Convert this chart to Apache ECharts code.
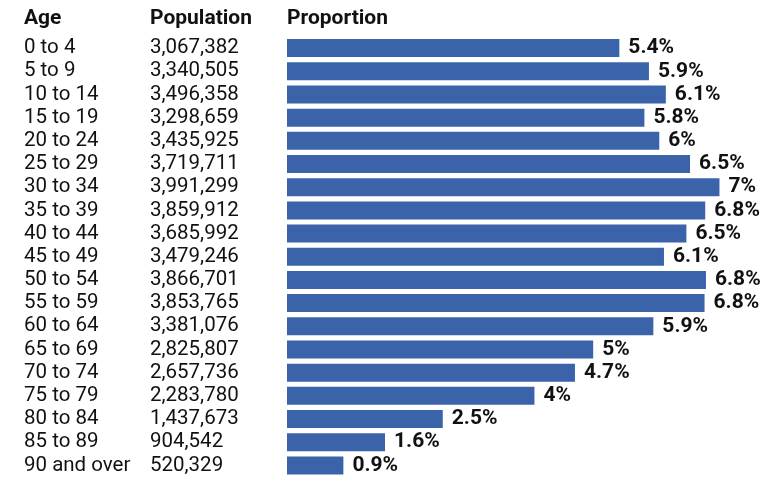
<!DOCTYPE html>
<html>
<head>
<meta charset="utf-8">
<script src="https://cdn.jsdelivr.net/npm/echarts@6/dist/echarts.min.js"></script>
<style>html,body{margin:0;padding:0;background:#fff;}#c{width:769px;height:477px;}</style>
</head>
<body>
<div id="c"></div>
<script>
const ages = ["0 to 4","5 to 9","10 to 14","15 to 19","20 to 24","25 to 29","30 to 34","35 to 39","40 to 44","45 to 49","50 to 54","55 to 59","60 to 64","65 to 69","70 to 74","75 to 79","80 to 84","85 to 89","90 and over"];
const population = [3067382,3340505,3496358,3298659,3435925,3719711,3991299,3859912,3685992,3479246,3866701,3853765,3381076,2825807,2657736,2283780,1437673,904542,520329];
const proportion = [5.4,5.9,6.1,5.8,6,6.5,7,6.8,6.5,6.1,6.8,6.8,5.9,5,4.7,4,2.5,1.6,0.9];
const headers = ["Age","Population","Proportion"];

const chart = echarts.init(document.getElementById('c'), null, {renderer:'canvas'});
const font = 'Roboto';
const labelCommon = {fontFamily: font, fontSize: 20.5, color: '#111', align: 'left', interval: 0};
chart.setOption({
  animation: false,
  backgroundColor: '#fff',
  grid: {left: 287, top: 36.5, width: 433.4, height: 441},
  xAxis: {type: 'value', min: 0, max: 4000000, show: false},
  yAxis: [
    {type: 'category', data: ages, inverse: true, axisLine:{show:false}, axisTick:{show:false}, splitLine:{show:false},
     axisLabel: Object.assign({margin: 263}, labelCommon)},
    {type: 'category', data: population.map(v => v.toLocaleString('en-US')), inverse: true, position: 'left',
     axisLine:{show:false}, axisTick:{show:false}, splitLine:{show:false},
     axisLabel: Object.assign({margin: 137}, labelCommon)}
  ],
  graphic: headers.map((h, i) => ({
    type: 'text', left: [24, 150, 287][i], top: 8,
    style: {text: h, font: 'bold 21px Roboto', fill: '#111'}
  })),
  series: [{
    type: 'bar', yAxisIndex: 0, data: population, barWidth: 18,
    itemStyle: {color: '#3a63a9'},
    label: {show: true, position: 'right', distance: 9, fontFamily: font, fontSize: 21, fontWeight: 'bold', color: '#111',
      formatter: p => proportion[p.dataIndex] + '%'}
  }]
});
</script>
</body>
</html>
